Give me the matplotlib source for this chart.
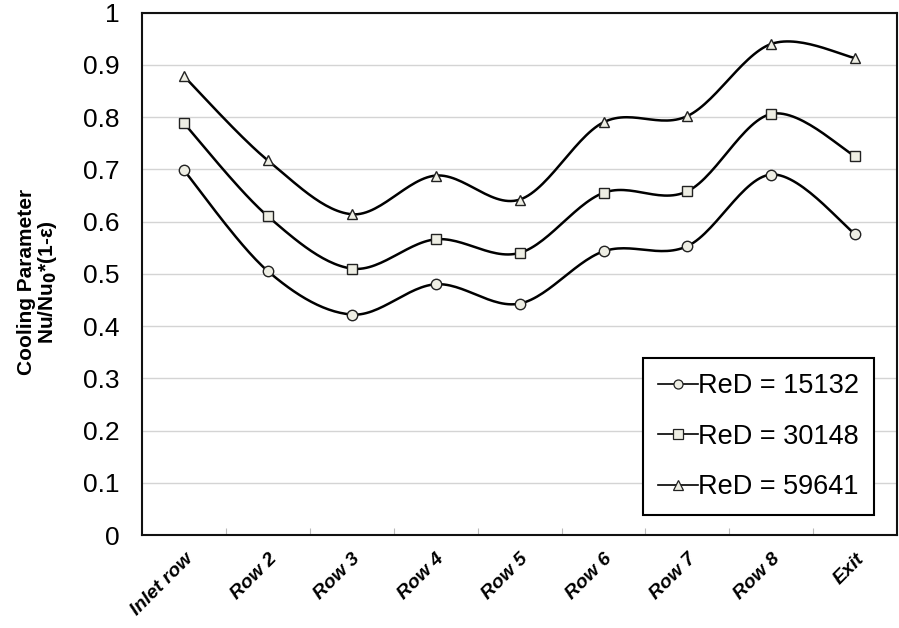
import numpy as np
import matplotlib
matplotlib.use("Agg")
import matplotlib.pyplot as plt

plt.rcParams["font.family"] = ["Liberation Sans", "DejaVu Sans"]

CATEGORIES = ["Inlet row", "Row 2", "Row 3", "Row 4", "Row 5", "Row 6", "Row 7", "Row 8", "Exit"]
RE_15132 = [0.698, 0.505, 0.422, 0.480, 0.443, 0.543, 0.553, 0.690, 0.576]
RE_30148 = [0.788, 0.610, 0.510, 0.566, 0.540, 0.655, 0.658, 0.806, 0.725]
RE_59641 = [0.878, 0.717, 0.614, 0.688, 0.642, 0.790, 0.802, 0.940, 0.913]
LABELS = ["ReD = 15132", "ReD = 30148", "ReD = 59641"]
MARKERS = ["o", "s", "^"]
Y_TICKS = [0, 0.1, 0.2, 0.3, 0.4, 0.5, 0.6, 0.7, 0.8, 0.9, 1]


def smooth(xs, ys, steps=30):
    # Excel-style smoothed line: cubic Bezier through points, tangents from neighbours
    xs = np.asarray(xs, float)
    ys = np.asarray(ys, float)
    n = len(xs)
    out_x, out_y = [], []
    t = np.linspace(0, 1, steps)
    for i in range(n - 1):
        p0 = np.array([xs[max(i - 1, 0)], ys[max(i - 1, 0)]])
        p1 = np.array([xs[i], ys[i]])
        p2 = np.array([xs[i + 1], ys[i + 1]])
        p3 = np.array([xs[min(i + 2, n - 1)], ys[min(i + 2, n - 1)]])
        c1 = p1 + (p2 - p0) / 6
        c2 = p2 - (p3 - p1) / 6
        pts = (
            ((1 - t) ** 3)[:, None] * p1
            + (3 * (1 - t) ** 2 * t)[:, None] * c1
            + (3 * (1 - t) * t ** 2)[:, None] * c2
            + (t ** 3)[:, None] * p2
        )
        out_x.extend(pts[:, 0])
        out_y.extend(pts[:, 1])
    return out_x, out_y


fig = plt.figure(figsize=(8.99, 6.28), dpi=100)
ax = fig.add_axes([0.158, 0.148, 0.840, 0.832])

x = np.arange(len(CATEGORIES))
for values, label, marker in zip([RE_15132, RE_30148, RE_59641], LABELS, MARKERS):
    sx, sy = smooth(x, values)
    ax.plot(sx, sy, color="black", lw=1.8, zorder=3)
    ax.plot(x, values, linestyle="none", marker=marker, markersize=7.5 if marker != "s" else 7,
            markerfacecolor="#EEEEE4", markeredgecolor="#222222", markeredgewidth=1.0, zorder=4)
    # legend proxy with short line through marker
    ax.plot([], [], color="black", lw=1.2, marker=marker, markersize=6.5,
            markerfacecolor="#EEEEE4", markeredgecolor="#222222", markeredgewidth=0.9, label=label)

ax.set_xlim(-0.5, len(CATEGORIES) - 0.5)
ax.set_ylim(0, 1)
ax.set_yticks(Y_TICKS)
ax.set_yticklabels([f"{v:g}" for v in Y_TICKS], fontsize=19)
ax.tick_params(axis="y", length=0, pad=16.5)

ax.set_xticks(x)
ax.set_xticklabels(CATEGORIES, rotation=45, ha="right", rotation_mode="anchor",
                   fontsize=14, fontweight="bold", fontstyle="italic")
ax.tick_params(axis="x", length=0, pad=11)
ax.set_xticks(np.arange(0.5, len(CATEGORIES) - 0.5, 1), minor=True)
ax.tick_params(axis="x", which="minor", direction="in", length=5, color="#BBBBBB", width=0.8)

ax.grid(axis="y", color="#D4D4D4", lw=1.0)
ax.set_axisbelow(True)
for spine in ax.spines.values():
    spine.set_color("#111111")
    spine.set_linewidth(1.5)

ax.set_ylabel("Cooling Parameter\nNu/Nu$_\\mathbf{0}$*(1-ε)", fontsize=15, fontweight="bold",
              linespacing=1.0)
ax.yaxis.set_label_coords(-0.110, 0.484)

leg = ax.legend(loc="upper left", bbox_to_anchor=(0.664, 0.338), fontsize=19.5,
                handlelength=1.45, handletextpad=0.0, labelspacing=0.9, borderpad=0.55,
                fancybox=False, framealpha=1, edgecolor="black", borderaxespad=0)
leg.get_frame().set_linewidth(1.5)

fig.savefig("out.png", dpi=100, facecolor="white")
